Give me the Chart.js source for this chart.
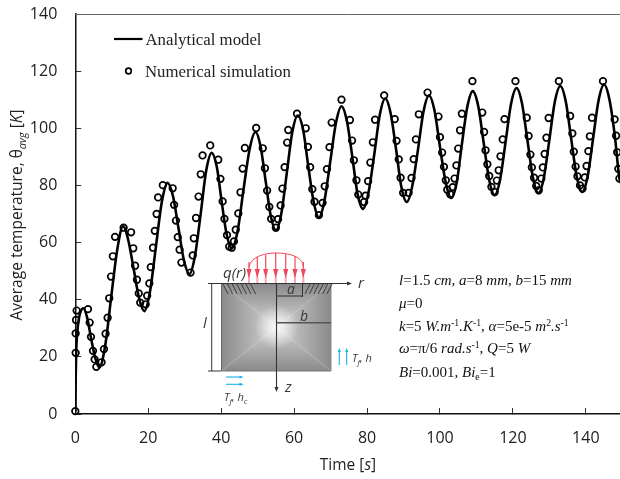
<!DOCTYPE html>
<html><head><meta charset="utf-8">
<style>html,body{margin:0;padding:0;background:#fff;overflow:hidden;width:620px;height:479px}
#w{position:absolute;left:0;top:0;width:628px;height:479px}</style>
<script src="https://cdn.jsdelivr.net/npm/chart.js@4"></script></head>
<body><div id="w"><canvas id="c" width="628" height="479"></canvas></div>
<script>
const seriesNames=["Analytical model","Numerical simulation"];
const analyticTimes=[0,0.1,0.25,0.5,1,1.5,2.2,3.2,4.4,5.5,6.6,8.2,9.85,11.5,13.1,14.5,16,17.5,18.9,20.5,22.1,23.7,25.3,26.8,28.3,29.8,31.3,32.8,34.4,35.9,37.4,38.8,40.1,41.5,42.9,44.5,46.1,47.8,49.4,50.8,52.2,53.6,55,56.5,58,59.5,61,62.5,63.9,65.4,66.8,68.3,69.9,71.5,73,74.5,76,77.4,78.9,80.4,82,83.5,85,86.5,88,89.4,90.9,92.4,94,95.5,97,98.5,100,101.6,103.1,104.6,106,107.5,109,110.5,112,113.5,115,116.5,118,119.5,121,122.5,124,125.5,127,128.5,130,131.5,133,134.5,136,137.5,139,140.5,142,143.5,145,146.5,148,149.2,150];
const analyticValues=[1,12,22,28,33.5,36,37,34,26,19.5,16.3,24,41,57.5,65.7,61,50.8,40.5,36,43,58.5,74,80.9,76.2,65,53.7,49,55.2,70.2,85.2,91.4,86.5,74.7,62.9,58,64,78.3,92.7,98.7,93.7,81.5,69.3,64.3,70.2,84.4,98.6,104.5,99.3,86.6,74,68.8,74.5,88.2,102,107.7,102.4,89.7,77,71.8,77.5,91,104.7,110.4,105.1,92.3,79.5,74.2,79.7,92.8,106,111.5,106.2,93.5,80.9,75.6,81.1,94.3,107.5,113,107.7,94.8,81.9,76.6,82.1,95.3,108.6,114.1,108.7,95.7,82.7,77.3,82.8,96,109.3,114.8,109.4,96.2,83.1,77.7,83.2,96.5,109.8,115.3,109.9,96.8,82.5,80];
const numericTimes=[0,0.1,0.1,0.2,0.37,3.48,3.94,4.3,4.85,5.3,5.76,7.2,7.86,8.3,8.86,9.3,9.8,10.3,10.9,13.25,15.3,15.9,16.4,16.9,17.4,17.8,19.3,19.7,20.3,20.7,21.3,21.8,22.3,22.7,24,26.7,27.1,27.6,28.1,28.6,29.1,31.6,32.2,32.5,33.1,33.8,34.4,34.9,37,39.2,39.8,40.4,40.9,41.6,42.2,42.9,43.5,44,44.7,45.3,45.9,46.5,49.6,51.4,52,52.6,53.2,53.7,55,55.6,56.3,56.8,57.4,58.1,58.4,60.8,63.2,63.8,64.4,65,65.6,66.8,67.8,68.4,69,69.7,70.3,73,75.3,75.9,76.4,77.1,77.6,79.2,79.6,80.3,80.9,81.6,82.2,84.7,87.6,88.1,88.7,89.2,89.9,91.4,92.2,92.8,93.4,94.2,96.6,99.6,100,100.6,101.1,101.6,102,102.8,103.5,104,104.5,105,105.5,106,108.9,111.6,112.1,112.5,113,113.5,114.1,115,115.6,116.1,116.6,117.2,117.7,120.7,123.8,124.3,124.8,125.2,125.8,126.4,127.1,127.8,128.2,128.7,129.2,129.8,132.6,135.7,136.3,136.7,137.2,137.7,138.4,139.1,139.7,140.2,140.7,141.1,141.7,144.7,147.9,148.3,148.6,148.9,149.2];
const numericValues=[1,21.4,28.2,32.9,36.2,36.7,32,27,22.1,19.1,16.5,18.1,22.7,28.1,33.7,40.5,48.1,55.2,62,65.2,63.6,58,51.9,47,42.2,39,38.4,41.4,45.7,51.4,58.2,64.1,70,75.8,80.1,79,73.2,67.7,61.9,57.5,53,49.5,55.5,61.5,68.6,76.1,83.9,90.5,94,89,82.3,74.4,68.3,62.6,58.6,58.2,60.4,64.5,70.2,77.6,85.9,93.1,100.1,93,86,78.2,72.5,68.3,65.2,68.2,73,78.9,86.4,95,99.4,105.1,100,93.5,86.4,78.7,74.3,69.6,73.9,79.7,85.7,93.4,102,110,102.9,95.7,88.8,81.8,76.8,74.2,76.4,81.5,88,95.1,103,111.5,103.2,95.6,89.1,82.7,77.4,77.4,82.6,89.2,96.1,104.9,112.5,104.1,96.9,91.5,86.5,81.8,78.5,76.9,79.4,82.4,87,92.9,99.3,105.1,116.5,105.5,98.7,92.3,87.4,83.3,79.5,77.7,81.7,85.3,90.2,96.1,103.2,116.5,103.7,97.3,90.8,86.3,82.7,79.8,78.3,82.4,86.3,91,96.7,103.6,116.5,104.3,98.2,91.8,86.6,83.2,80,78.9,82.8,86.8,92,97.2,103.7,116.5,103.1,97.4,91.6,85.8,82.4];
const xAxisTitle=[["Time [",""],["s","i"],["]",""]];
const yAxisTitle=[["Average temperature, θ",""],["avg","i",4,0.7],[" [",""],["K","i"],["]",""]];
const paramLines=[
 [["l","i"],["=1.5 ",""],["cm, a","i"],["=8 ",""],["mm, b","i"],["=15 ",""],["mm","i"]],
 [["μ","i"],["=0",""]],
 [["k","i"],["=5 ",""],["W.m","i"],["-1","",-5,0.65],[".K","i"],["-1","",-5,0.65],[", ",""],["α","i"],["=5e-5 ",""],["m","i"],["2","",-5,0.65],[".s","i"],["-1","",-5,0.65]],
 [["ω","i"],["=π/6 ",""],["rad.s","i"],["-1","",-5,0.65],[", ",""],["Q","i"],["=5 ",""],["W","i"]],
 [["Bi","i"],["=0.001, ",""],["Bi","i"],["e","",3,0.65],["=1",""]]
];
const SANS='"Open Sans"', SERIF='"Liberation Serif"';
function runs(ctx,x,y,list,size,fam,col){
  ctx.fillStyle=col||'#222';ctx.textBaseline='alphabetic';ctx.textAlign='left';
  for(const r of list){const s=size*(r[3]||1);
    ctx.font=(r[1]==='i'?'italic ':'')+s+'px '+fam;
    ctx.fillText(r[0],x,y+(r[2]||0));x+=ctx.measureText(r[0]).width;}
  return x;
}
function width(ctx,list,size,fam){let w=0;for(const r of list){ctx.font=(r[1]==='i'?'italic ':'')+size*(r[3]||1)+'px '+fam;w+=ctx.measureText(r[0]).width;}return w;}
function line(ctx,a,b,c,d,col,lw){ctx.strokeStyle=col;ctx.lineWidth=lw;ctx.beginPath();ctx.moveTo(a,b);ctx.lineTo(c,d);ctx.stroke();}
function head(ctx,x,y,dx,dy,l,w,col){ctx.fillStyle=col;ctx.beginPath();ctx.moveTo(x,y);ctx.lineTo(x-dx*l-dy*w,y-dy*l-dx*w);ctx.lineTo(x-dx*l+dy*w,y-dy*l+dx*w);ctx.closePath();ctx.fill();}
function inset(ctx){
  const L=221.5,R=331,T=283.5,B=371,cx=276.5,cy=327;
  const edge='#8a8a8a',mid='#d4d4d4';
  const tri=(p,g)=>{ctx.fillStyle=g;ctx.beginPath();ctx.moveTo(p[0],p[1]);ctx.lineTo(p[2],p[3]);ctx.lineTo(cx,cy);ctx.closePath();ctx.fill();};
  const grad=(x0,y0,x1,y1)=>{const g=ctx.createLinearGradient(x0,y0,x1,y1);g.addColorStop(0,edge);g.addColorStop(1,mid);return g;};
  tri([L,T,R,T],grad(0,T,0,cy));tri([L,B,R,B],grad(0,B,0,cy));
  tri([L,T,L,B],grad(L,0,cx,0));tri([R,T,R,B],grad(R,0,cx,0));
  const rg=ctx.createRadialGradient(cx,cy,0,cx,cy,22);rg.addColorStop(0,'rgba(255,255,255,.9)');rg.addColorStop(1,'rgba(255,255,255,0)');
  ctx.fillStyle=rg;ctx.fillRect(L,T,R-L,B-T);
  line(ctx,L,B,R,B,'#777',1.2);line(ctx,R,T,R,B,'#888',1);line(ctx,L,T,L,B,'#666',1);
  for(let i=0;i<7;i++){line(ctx,223+i*4.6,284,228+i*4.6,294,'#333',.9);}
  for(let i=0;i<6;i++){line(ctx,305+i*4.4,294,310+i*4.4,284,'#333',.9);}
  const red='#f0475a',pink='#f7a8b0';
  ctx.strokeStyle=red;ctx.lineWidth=1;ctx.beginPath();ctx.moveTo(249,267);ctx.bezierCurveTo(251,256,266,253,276,253);ctx.bezierCurveTo(288,253,303,256,303.3,267);ctx.stroke();
  const ax=[[249,262],[257.3,257],[265.7,255],[275.7,253],[285.7,254],[295,256],[303.3,262]];
  ax.forEach(a=>{line(ctx,a[0],a[1],a[0],278,red,1.2);line(ctx,a[0],277,a[0],283,pink,2);head(ctx,a[0],278,0,1,9,2.6,red);});
  line(ctx,208,283.5,350,283.5,'#333',1.1);head(ctx,352,283.5,1,0,5,2,'#333');
  line(ctx,276.5,283.5,276.5,390,'#333',1.1);head(ctx,276.5,392,0,1,5,2,'#333');
  line(ctx,276.5,296,302.5,296,'#333',1);line(ctx,302.5,283.5,302.5,297,'#333',1);
  line(ctx,276.5,322.7,331,322.7,'#555',1.4);
  line(ctx,211.7,283.5,211.7,371,'#333',1);line(ctx,208,283.5,221,283.5,'#333',1);line(ctx,208,371,221,371,'#333',1);
  const blue='#1cb0ee';
  [339.3,346.7].forEach(x=>{line(ctx,x,365,x,351,blue,1.1);head(ctx,x,348,0,-1,4,1.6,blue);});
  [377,384.3].forEach(y=>{line(ctx,226,y,240,y,blue,1.1);head(ctx,243.5,y,1,0,4,1.6,blue);});
  const dk='#3a3a3a';
  ctx.fillStyle=dk;ctx.textBaseline='alphabetic';ctx.textAlign='left';
  const it=(t,x,y,s)=>{ctx.font='italic '+s+'px '+SANS;ctx.fillStyle=dk;ctx.fillText(t,x,y);};
  it('q(r)',223,278,15);it('r',358,288,15);it('z',285,392,15);it('a',287,294,14);it('b',300,321,14);it('l',203,328,15);
  runs(ctx,352,362,[["T","i"],["f","i",3,.7],[", h","i"]],11,SANS,dk);
  runs(ctx,224,401,[["T","i"],["f","i",3,.7],[", h","i"],["c","i",3,.7]],11,SANS,dk);
}
const decor={id:'decor',afterDraw(ch){
  const ctx=ch.ctx,a=ch.chartArea;ctx.save();
  line(ctx,a.left,a.top+.5,a.right,a.top+.5,'#666',1);
  line(ctx,114,39,142.5,39,'#000',2.2);
  ctx.strokeStyle='#000';ctx.lineWidth=1.7;ctx.beginPath();ctx.arc(128.5,71,2.8,0,7);ctx.stroke();
  ctx.fillStyle='#222';ctx.font='16.8px '+SERIF;ctx.textBaseline='alphabetic';ctx.textAlign='left';
  ctx.fillText(seriesNames[0],145.5,44.5);ctx.fillText(seriesNames[1],145,76.5);
  let w=width(ctx,xAxisTitle,15.5,SANS);runs(ctx,348-w/2,470,xAxisTitle,15.5,SANS);
  ctx.save();w=width(ctx,yAxisTitle,15.5,SANS);ctx.translate(22,215);ctx.rotate(-Math.PI/2);runs(ctx,-w/2,0,yAxisTitle,15.5,SANS);ctx.restore();
  paramLines.forEach((l,i)=>runs(ctx,399,[285,307.5,331,353,376.5][i],l,15,SERIF,'#111'));
  inset(ctx);
  ctx.restore();
}};
const tickFont={family:'Open Sans',size:16};
const noPad=s=>{s.paddingTop=s.paddingBottom=s.paddingLeft=s.paddingRight=0;};
new Chart(document.getElementById('c'),{
  type:'scatter',
  data:{datasets:[
    {label:seriesNames[1],data:numericTimes.map((x,i)=>({x,y:numericValues[i]})),showLine:false,pointRadius:3.3,pointBorderWidth:1.7,pointBorderColor:'#000',pointBackgroundColor:'rgba(0,0,0,0)',clip:false},
    {label:seriesNames[0],data:analyticTimes.map((x,i)=>({x,y:analyticValues[i]})),showLine:true,borderColor:'#000',borderWidth:2.6,pointRadius:0,cubicInterpolationMode:'monotone'}
  ]},
  options:{responsive:false,animation:false,
    layout:{padding:{top:14,left:0,right:0,bottom:0}},
    plugins:{legend:{display:false},tooltip:{enabled:false}},
    scales:{
      x:{type:'linear',min:0,max:150,
        grid:{drawOnChartArea:false,tickLength:-6,tickColor:'#333',tickWidth:1},
        border:{color:'#111',width:1.5},
        ticks:{stepSize:20,font:tickFont,color:'#222',padding:21,maxRotation:0,autoSkip:false,includeBounds:false},
        afterFit(s){s.height=65;noPad(s);}},
      y:{min:0,max:140,
        grid:{drawOnChartArea:false,tickLength:-6,tickColor:'#333',tickWidth:1},
        border:{color:'#111',width:1.5},
        ticks:{stepSize:20,font:tickFont,color:'#222',padding:24},
        afterFit(s){s.width=75.3;noPad(s);}}
    }},
  plugins:[decor]
});
</script></body></html>
